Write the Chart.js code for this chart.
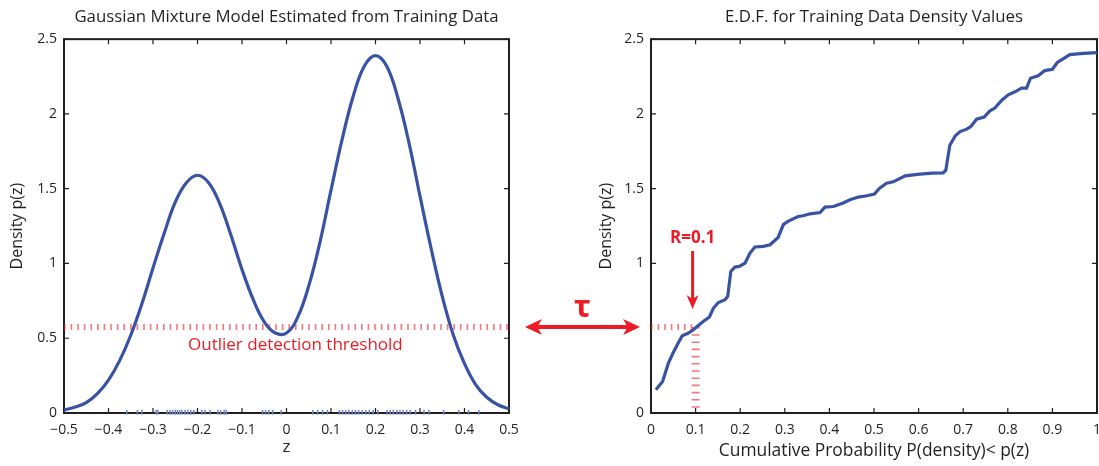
<!DOCTYPE html>
<html>
<head>
<meta charset="utf-8">
<script src="https://cdn.jsdelivr.net/npm/chart.js@4.4.1/dist/chart.umd.min.js"></script>
<style>
  html, body { margin: 0; padding: 0; background: #fff; overflow: hidden; }
  #wrap { position: relative; width: 1099px; height: 466px; }
  canvas { position: absolute; top: 0; }
  #gmmChart { left: 0; }
  #edfChart { left: 500px; }
</style>
</head>
<body>
<div id="wrap">
  <canvas id="gmmChart" width="530" height="466"></canvas>
  <canvas id="edfChart" width="610" height="466"></canvas>
</div>
<script>
// mixture density sampled along z
const zValues = [
  -0.5, -0.475, -0.45, -0.425, -0.4, -0.375, -0.35, -0.325, -0.3, -0.275,
  -0.25, -0.225, -0.2, -0.175, -0.15, -0.125, -0.1, -0.075, -0.05, -0.025,
  0, 0.025, 0.05, 0.075, 0.1, 0.125, 0.15, 0.175, 0.2, 0.225,
  0.25, 0.275, 0.3, 0.325, 0.35, 0.375, 0.4, 0.425, 0.45, 0.475, 0.5
];
const densityValues = [
  0.02, 0.04, 0.07, 0.13, 0.22, 0.35, 0.52, 0.73, 0.97, 1.2,
  1.41, 1.54, 1.59, 1.54, 1.4, 1.19, 0.96, 0.76, 0.61, 0.535,
  0.535, 0.64, 0.85, 1.14, 1.49, 1.83, 2.12, 2.32, 2.39, 2.32,
  2.11, 1.81, 1.45, 1.1, 0.78, 0.52, 0.33, 0.19, 0.105, 0.055, 0.028
];

// training samples, drawn as a rug along the z axis
const trainingZ = [
  -0.359, -0.335, -0.325, -0.293, -0.289, -0.268, -0.262, -0.256, -0.25, -0.245,
  -0.24, -0.235, -0.228, -0.222, -0.215, -0.208, -0.19, -0.183, -0.172, -0.154,
  -0.148, -0.14, -0.135, -0.054, -0.047, -0.04, -0.031, -0.012, 0.059, 0.07,
  0.081, 0.092, 0.119, 0.126, 0.133, 0.14, 0.148, 0.155, 0.162, 0.17,
  0.178, 0.186, 0.195, 0.205, 0.226, 0.233, 0.24, 0.248, 0.255, 0.262,
  0.27, 0.278, 0.29, 0.309, 0.32, 0.353, 0.387, 0.409, 0.432
];

// empirical distribution of the training densities
const cumProb = [
  0.011, 0.026, 0.039, 0.05, 0.061, 0.07, 0.084, 0.095, 0.102, 0.117,
  0.131, 0.14, 0.151, 0.166, 0.172, 0.179, 0.188, 0.198, 0.211, 0.222,
  0.233, 0.252, 0.267, 0.285, 0.297, 0.308, 0.33, 0.341, 0.357, 0.379,
  0.39, 0.409, 0.431, 0.446, 0.465, 0.484, 0.501, 0.512, 0.528, 0.543,
  0.57, 0.603, 0.63, 0.655, 0.661, 0.67, 0.682, 0.693, 0.708, 0.717,
  0.73, 0.747, 0.76, 0.771, 0.786, 0.801, 0.816, 0.831, 0.842, 0.851,
  0.868, 0.883, 0.9, 0.911, 0.924, 0.939, 0.969, 1.0
];
const sortedDensity = [
  0.156, 0.211, 0.334, 0.405, 0.468, 0.517, 0.535, 0.557, 0.575, 0.612,
  0.642, 0.702, 0.739, 0.757, 0.78, 0.947, 0.976, 0.98, 1.003, 1.07,
  1.11, 1.114, 1.125, 1.174, 1.262, 1.283, 1.314, 1.319, 1.332, 1.341,
  1.377, 1.381, 1.404, 1.426, 1.444, 1.453, 1.464, 1.501, 1.537, 1.546,
  1.586, 1.598, 1.604, 1.606, 1.624, 1.79, 1.853, 1.882, 1.898, 1.916,
  1.965, 1.979, 2.021, 2.039, 2.09, 2.128, 2.148, 2.172, 2.172, 2.239,
  2.255, 2.29, 2.299, 2.344, 2.368, 2.397, 2.405, 2.41
];

const threshold = 0.575;
const rejectRate = 0.1;

const gmmXTicks = [-0.5, -0.4, -0.3, -0.2, -0.1, 0, 0.1, 0.2, 0.3, 0.4, 0.5];
const gmmYTicks = [0, 0.5, 1, 1.5, 2, 2.5];
const edfXTicks = [0, 0.1, 0.2, 0.3, 0.4, 0.5, 0.6, 0.7, 0.8, 0.9, 1];
const edfYTicks = [0, 1, 1.5, 2, 2.5];

const BLUE = "#3953a4";
const RED = "#ed1c24";
const DASH_RED = "rgba(237, 28, 36, 0.6)";
const INK = "#231f20";
const FONT = "'Open Sans', Lato, sans-serif";

function fmt(v) {
  return v < 0 ? "\u2212" + String(-v) : String(v);
}

function setTicks(list) {
  return axis => { axis.ticks = list.map(v => ({ value: v })); };
}

function arrowHead(ctx, x, y, angle, len, half) {
  ctx.save();
  ctx.translate(x, y);
  ctx.rotate(angle);
  ctx.beginPath();
  ctx.moveTo(0, 0);
  ctx.lineTo(-len, -half);
  ctx.lineTo(-len * 0.72, 0);
  ctx.lineTo(-len, half);
  ctx.closePath();
  ctx.fill();
  ctx.restore();
}

// box with inward tick marks on all four sides
const framePlugin = {
  id: "frame",
  beforeDatasetsDraw(chart) {
    const { ctx, chartArea: a, scales: { x, y } } = chart;
    ctx.save();
    ctx.strokeStyle = INK;
    ctx.lineWidth = 1.2;
    ctx.beginPath();
    x.ticks.forEach(t => {
      const px = x.getPixelForValue(t.value);
      ctx.moveTo(px, a.bottom);
      ctx.lineTo(px, a.bottom - 5);
      ctx.moveTo(px, a.top);
      ctx.lineTo(px, a.top + 5);
    });
    y.ticks.forEach(t => {
      const py = y.getPixelForValue(t.value);
      ctx.moveTo(a.left, py);
      ctx.lineTo(a.left + 5, py);
      ctx.moveTo(a.right, py);
      ctx.lineTo(a.right - 5, py);
    });
    ctx.stroke();
    ctx.lineWidth = 2;
    ctx.strokeRect(a.left, a.top, a.right - a.left, a.bottom - a.top);
    ctx.restore();
  }
};

function scaleOptions(min, max, ticks, size, title, titleSize, titlePad) {
  return {
    type: "linear",
    min: min,
    max: max,
    afterBuildTicks: setTicks(ticks),
    afterFit: size,
    grid: { display: false, drawTicks: false },
    border: { display: false },
    ticks: {
      color: INK,
      font: { family: FONT, size: 14 },
      padding: 0,
      autoSkip: false,
      maxRotation: 0,
      callback: v => fmt(v)
    },
    title: {
      display: true,
      text: title,
      color: INK,
      font: { family: FONT, size: titleSize },
      padding: titlePad
    }
  };
}

function baseOptions(titleText, padding) {
  return {
    responsive: false,
    animation: false,
    events: [],
    layout: { padding: padding },
    plugins: {
      legend: { display: false },
      tooltip: { enabled: false },
      title: {
        display: true,
        fullSize: false,
        text: titleText,
        color: INK,
        font: { family: FONT, size: 16.8, weight: "normal" },
        padding: { top: 7, bottom: 12 }
      }
    }
  };
}

// left: mixture density with threshold
const gmmOptions = baseOptions("Gaussian Mixture Model Estimated from Training Data",
  { left: 0, right: 21, top: 0, bottom: 0 });
gmmOptions.scales = {
  x: scaleOptions(-0.5, 0.5, gmmXTicks, s => { s.height = 53; }, "z", 17, { top: 0, bottom: 9 }),
  y: scaleOptions(0, 2.5, gmmYTicks, s => { s.width = 64; }, "Density p(z)", 16, { top: 8, bottom: 0 })
};
gmmOptions.scales.x.ticks.padding = 9;
gmmOptions.scales.y.ticks.padding = 7;

new Chart(document.getElementById("gmmChart"), {
  type: "line",
  data: {
    datasets: [
      {
        data: zValues.map((z, i) => ({ x: z, y: densityValues[i] })),
        borderColor: BLUE,
        borderWidth: 3.2,
        pointRadius: 0,
        tension: 0.4,
        order: 1
      },
      {
        data: [{ x: -0.5, y: threshold }, { x: 0.5, y: threshold }],
        borderColor: DASH_RED,
        borderWidth: 6,
        borderDash: [1.6, 5],
        pointRadius: 0,
        order: 2
      },
      {
        type: "scatter",
        data: trainingZ.map(z => ({ x: z, y: 0.005 })),
        pointStyle: "line",
        rotation: 90,
        radius: 2.5,
        borderColor: "#6f86c8",
        borderWidth: 1.5,
        clip: false,
        order: 0
      }
    ]
  },
  options: gmmOptions,
  plugins: [framePlugin, {
    id: "thresholdLabel",
    afterDatasetsDraw(chart) {
      const { ctx, scales: { x, y } } = chart;
      ctx.save();
      ctx.fillStyle = RED;
      ctx.font = "17px " + FONT;
      ctx.textAlign = "center";
      ctx.textBaseline = "middle";
      ctx.fillText("Outlier detection threshold", x.getPixelForValue(0.02), y.getPixelForValue(0.455));
      ctx.restore();
    }
  }]
});

// right: E.D.F. of the training densities
const edfOptions = baseOptions("E.D.F. for Training Data Density Values",
  { left: 89, right: 13, top: 0, bottom: 0 });
edfOptions.scales = {
  x: scaleOptions(0, 1, edfXTicks, s => { s.height = 53; }, "Cumulative Probability P(density)< p(z)", 17.4, { top: 0, bottom: 5 }),
  y: scaleOptions(0, 2.5, edfYTicks, s => { s.width = 62; }, "Density p(z)", 16, { top: 8, bottom: 0 })
};
edfOptions.scales.x.ticks.padding = 9;
edfOptions.scales.y.ticks.padding = 7;

new Chart(document.getElementById("edfChart"), {
  type: "line",
  data: {
    datasets: [
      {
        data: cumProb.map((p, i) => ({ x: p, y: sortedDensity[i] })),
        borderColor: BLUE,
        borderWidth: 3.2,
        pointRadius: 0,
        tension: 0,
        order: 0
      },
      {
        data: [{ x: 0, y: threshold }, { x: rejectRate, y: threshold }],
        borderColor: DASH_RED,
        borderWidth: 6,
        borderDash: [1.6, 5],
        pointRadius: 0,
        order: 1
      },
      {
        data: [{ x: rejectRate, y: threshold }, { x: rejectRate, y: 0 }],
        borderColor: DASH_RED,
        borderWidth: 8,
        borderDash: [1.6, 5.6],
        pointRadius: 0,
        order: 1
      }
    ]
  },
  options: edfOptions,
  plugins: [framePlugin, {
    id: "tauArrows",
    afterDatasetsDraw(chart) {
      const { ctx, chartArea: a, scales: { x, y } } = chart;
      const ty = y.getPixelForValue(threshold);
      ctx.save();
      ctx.strokeStyle = RED;
      ctx.fillStyle = RED;

      // double arrow between the two panels
      const x2 = a.left - 11;
      const x1 = x2 - 115;
      ctx.lineWidth = 4;
      ctx.beginPath();
      ctx.moveTo(x1 + 10, ty);
      ctx.lineTo(x2 - 10, ty);
      ctx.stroke();
      arrowHead(ctx, x1, ty, Math.PI, 17, 8);
      arrowHead(ctx, x2, ty, 0, 17, 8);
      ctx.font = "bold 31px 'Noto Sans', sans-serif";
      ctx.textAlign = "center";
      ctx.textBaseline = "alphabetic";
      ctx.fillText("\u03c4", (x1 + x2) / 2, ty - 10);

      // rejection rate marker
      const rx = x.getPixelForValue(rejectRate) - 3;
      const tip = ty - 18;
      ctx.lineWidth = 3;
      ctx.beginPath();
      ctx.moveTo(rx, tip - 58);
      ctx.lineTo(rx, tip - 8);
      ctx.stroke();
      arrowHead(ctx, rx, tip, Math.PI / 2, 14, 6);
      ctx.font = "bold 17px " + FONT;
      ctx.textBaseline = "middle";
      ctx.fillText("R=" + rejectRate, rx, tip - 71);
      ctx.restore();
    }
  }]
});
</script>
</body>
</html>
